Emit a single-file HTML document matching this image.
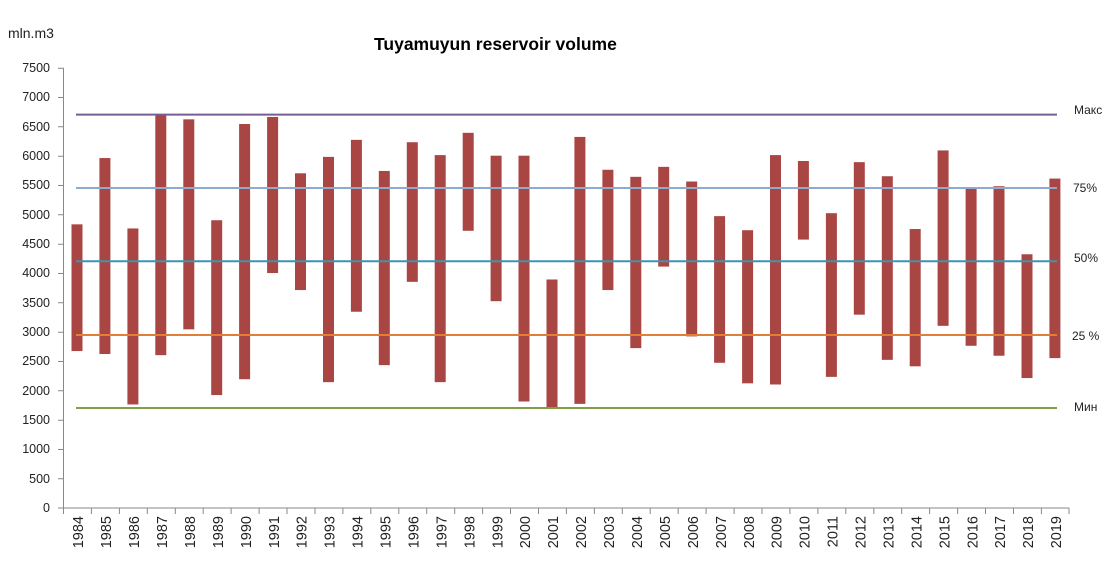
<!DOCTYPE html>
<html><head><meta charset="utf-8"><style>body{margin:0;background:#fff}svg{display:block;font-family:"Liberation Sans",sans-serif}</style></head><body>
<svg width="1116" height="587" viewBox="0 0 1116 587" xmlns="http://www.w3.org/2000/svg">
<rect width="1116" height="587" fill="#fff"/>
<text x="8" y="38" font-size="14" fill="#222">mln.m3</text>
<text x="374" y="50" font-size="17.5" font-weight="bold" fill="#000">Tuyamuyun reservoir volume</text>
<g font-size="12.5" fill="#222" text-anchor="end">
<text x="50" y="512">0</text><text x="50" y="483">500</text><text x="50" y="453">1000</text><text x="50" y="424">1500</text><text x="50" y="395">2000</text><text x="50" y="365">2500</text><text x="50" y="336">3000</text><text x="50" y="307">3500</text><text x="50" y="277">4000</text><text x="50" y="248">4500</text><text x="50" y="219">5000</text><text x="50" y="189">5500</text><text x="50" y="160">6000</text><text x="50" y="131">6500</text><text x="50" y="101">7000</text><text x="50" y="72">7500</text>
</g>
<g stroke="#888" stroke-width="1">
<line x1="63.5" y1="67.7" x2="63.5" y2="508"/>
<line x1="58" y1="508" x2="1069" y2="508"/>
<path d="M58 68.2h5M58 97.5h5M58 126.8h5M58 156.2h5M58 185.5h5M58 214.8h5M58 244.2h5M58 273.5h5M58 302.8h5M58 332.2h5M58 361.5h5M58 390.8h5M58 420.2h5M58 449.5h5M58 478.8h5"/>
<path d="M63.5 508v6M91.4 508v6M119.4 508v6M147.3 508v6M175.3 508v6M203.2 508v6M231.1 508v6M259.1 508v6M287 508v6M315 508v6M342.9 508v6M370.8 508v6M398.8 508v6M426.7 508v6M454.7 508v6M482.6 508v6M510.5 508v6M538.5 508v6M566.4 508v6M594.4 508v6M622.3 508v6M650.2 508v6M678.2 508v6M706.1 508v6M734.1 508v6M762 508v6M789.9 508v6M817.9 508v6M845.8 508v6M873.8 508v6M901.7 508v6M929.6 508v6M957.6 508v6M985.5 508v6M1013.5 508v6M1041.4 508v6M1069 508v6"/>
</g>
<g transform="translate(0,507.7) scale(1,-0.058667)" fill="#A94643">
<rect x="71.5" y="2670" width="11" height="2160"/>
<rect x="99.4" y="2620" width="11" height="3340"/>
<rect x="127.4" y="1760" width="11" height="3000"/>
<rect x="155.3" y="2600" width="11" height="4100"/>
<rect x="183.3" y="3040" width="11" height="3580"/>
<rect x="211.2" y="1920" width="11" height="2980"/>
<rect x="239.1" y="2190" width="11" height="4350"/>
<rect x="267.1" y="4000" width="11" height="2660"/>
<rect x="295" y="3710" width="11" height="1990"/>
<rect x="323" y="2140" width="11" height="3840"/>
<rect x="350.9" y="3340" width="11" height="2930"/>
<rect x="378.8" y="2430" width="11" height="3310"/>
<rect x="406.8" y="3850" width="11" height="2380"/>
<rect x="434.7" y="2140" width="11" height="3870"/>
<rect x="462.7" y="4720" width="11" height="1670"/>
<rect x="490.6" y="3520" width="11" height="2480"/>
<rect x="518.5" y="1810" width="11" height="4190"/>
<rect x="546.5" y="1700" width="11" height="2190"/>
<rect x="574.4" y="1770" width="11" height="4550"/>
<rect x="602.4" y="3710" width="11" height="2050"/>
<rect x="630.3" y="2720" width="11" height="2920"/>
<rect x="658.2" y="4110" width="11" height="1700"/>
<rect x="686.2" y="2920" width="11" height="2640"/>
<rect x="714.1" y="2470" width="11" height="2500"/>
<rect x="742.1" y="2120" width="11" height="2610"/>
<rect x="770" y="2100" width="11" height="3910"/>
<rect x="797.9" y="4570" width="11" height="1340"/>
<rect x="825.9" y="2230" width="11" height="2790"/>
<rect x="853.8" y="3290" width="11" height="2600"/>
<rect x="881.8" y="2520" width="11" height="3130"/>
<rect x="909.7" y="2410" width="11" height="2340"/>
<rect x="937.6" y="3100" width="11" height="2990"/>
<rect x="965.6" y="2760" width="11" height="2680"/>
<rect x="993.5" y="2590" width="11" height="2890"/>
<rect x="1021.5" y="2210" width="11" height="2110"/>
<rect x="1049.4" y="2550" width="11" height="3060"/>
</g>
<g stroke-width="2">
<line x1="76" y1="114.6" x2="1057" y2="114.6" stroke="#7A5C94"/>
<line x1="76" y1="188" x2="1057" y2="188" stroke="#8FAACF"/>
<line x1="76" y1="261.3" x2="1057" y2="261.3" stroke="#3E94B0"/>
<line x1="76" y1="335" x2="1057" y2="335" stroke="#E07F35"/>
<line x1="76" y1="408" x2="1057" y2="408" stroke="#7FA044"/>
</g>
<g font-size="12" fill="#222">
<text x="1074" y="114">Макс</text><text x="1073" y="192">75%</text><text x="1074" y="262">50%</text><text x="1072" y="340">25 %</text><text x="1074" y="411">Мин</text>
</g>
<g font-size="14.5" fill="#222" text-anchor="end">
<text transform="translate(83,516) rotate(-90)">1984</text>
<text transform="translate(111,516) rotate(-90)">1985</text>
<text transform="translate(139,516) rotate(-90)">1986</text>
<text transform="translate(167,516) rotate(-90)">1987</text>
<text transform="translate(195,516) rotate(-90)">1988</text>
<text transform="translate(223,516) rotate(-90)">1989</text>
<text transform="translate(250.8,516) rotate(-90)">1990</text>
<text transform="translate(278.8,516) rotate(-90)">1991</text>
<text transform="translate(306.7,516) rotate(-90)">1992</text>
<text transform="translate(334.7,516) rotate(-90)">1993</text>
<text transform="translate(362.6,516) rotate(-90)">1994</text>
<text transform="translate(390.5,516) rotate(-90)">1995</text>
<text transform="translate(418.5,516) rotate(-90)">1996</text>
<text transform="translate(446.4,516) rotate(-90)">1997</text>
<text transform="translate(474.4,516) rotate(-90)">1998</text>
<text transform="translate(502.3,516) rotate(-90)">1999</text>
<text transform="translate(530.2,516) rotate(-90)">2000</text>
<text transform="translate(558.2,516) rotate(-90)">2001</text>
<text transform="translate(586.1,516) rotate(-90)">2002</text>
<text transform="translate(614.1,516) rotate(-90)">2003</text>
<text transform="translate(642,516) rotate(-90)">2004</text>
<text transform="translate(669.9,516) rotate(-90)">2005</text>
<text transform="translate(697.9,516) rotate(-90)">2006</text>
<text transform="translate(725.8,516) rotate(-90)">2007</text>
<text transform="translate(753.8,516) rotate(-90)">2008</text>
<text transform="translate(781.7,516) rotate(-90)">2009</text>
<text transform="translate(809.6,516) rotate(-90)">2010</text>
<text transform="translate(837.6,516) rotate(-90)">2011</text>
<text transform="translate(865.5,516) rotate(-90)">2012</text>
<text transform="translate(893.5,516) rotate(-90)">2013</text>
<text transform="translate(921.4,516) rotate(-90)">2014</text>
<text transform="translate(949.3,516) rotate(-90)">2015</text>
<text transform="translate(977.3,516) rotate(-90)">2016</text>
<text transform="translate(1005.2,516) rotate(-90)">2017</text>
<text transform="translate(1033.2,516) rotate(-90)">2018</text>
<text transform="translate(1061.1,516) rotate(-90)">2019</text>
</g>
</svg>
</body></html>
